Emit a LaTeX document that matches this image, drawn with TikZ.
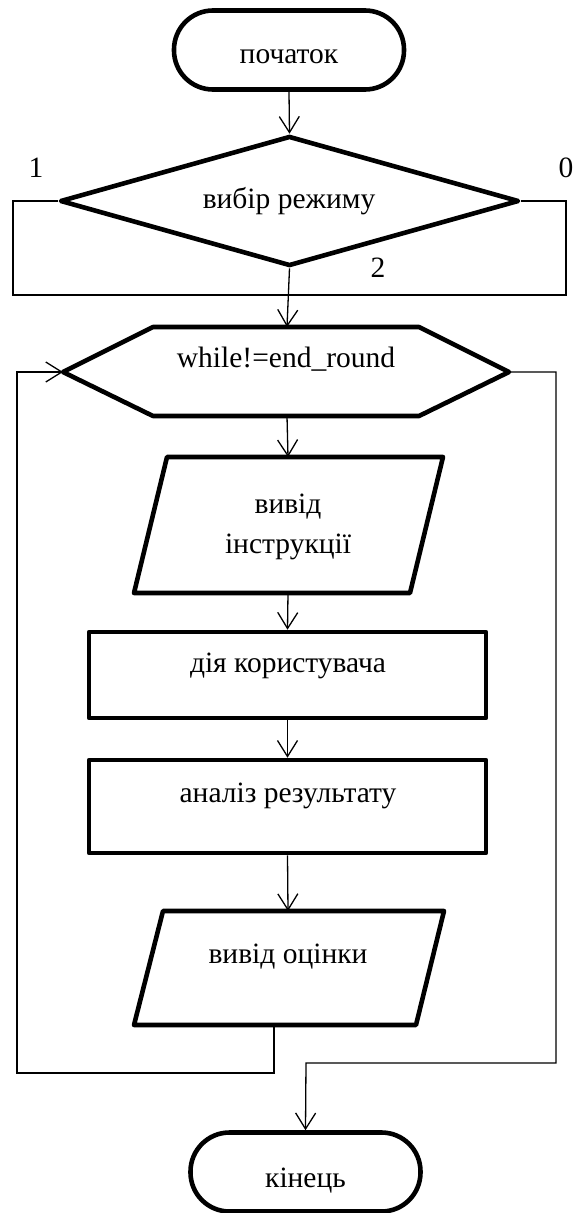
\documentclass[tikz,border=0pt]{standalone}
\usepackage{fontspec}
\setmainfont{Liberation Serif}
\usetikzlibrary{arrows.meta,shapes.geometric}
\begin{document}
\begin{tikzpicture}[x=1pt,y=-1pt,
  thickline/.style={line width=4.6pt, line join=round},
  thinline/.style={line width=1.3pt},
  flow/.style={thinline, -{Straight Barb[length=16pt,width=20pt]}},
  txt/.style={font=\fontsize{29.5}{38}\selectfont, inner sep=0pt, anchor=base},
  term/.style={thickline, draw, rectangle, rounded corners=39pt, minimum width=230pt, minimum height=79pt, inner sep=0pt},
  proc/.style={thickline, draw, rectangle, minimum width=397pt, inner sep=0pt},
]
\useasboundingbox (0,0) rectangle (574,1213);

% terminals
\node[term] (start) at (289,50) {};
\node[txt] (startt) at (289,63) {початок};
\node[term] (end) at (305.5,1172) {};
\node[txt] (endt) at (305.5,1187) {кінець};

% decision
\node[draw, thickline, diamond, minimum width=459pt, minimum height=130pt, inner sep=0pt] (dec) at (289.5,201) {};
\node[txt] (dect) at (289,208) {вибір режиму};
\node[txt] (l1) at (36,177) {1};
\node[txt] (l0) at (566,177) {0};
\node[txt] (l2) at (378,277) {2};

% loop hexagon
\draw[thickline] (63,372) coordinate (hexW) -- (153,327) -- (287,327) coordinate (hexN) -- (419,327)
  -- (509,372) coordinate (hexE) -- (419,416) -- (287,416) coordinate (hexS) -- (153,416) -- cycle;
\node[txt] (hext) at (286,367) {while!=end\_round};

% output 1
\draw[thickline] (167,457) -- (288,457) coordinate (p1N) -- (443,457) -- (410,593)
  -- (288,593) coordinate (p1S) -- (134,593) -- cycle;
\node[txt] (p1ta) at (288,513) {вивід};
\node[txt] (p1tb) at (288,553) {інструкції};

% processes
\node[proc, minimum height=86pt] (r1) at (287.5,675) {};
\node[txt] (r1t) at (288,672) {дія користувача};
\node[proc, minimum height=93pt] (r2) at (287.5,806.5) {};
\node[txt] (r2t) at (288,802) {аналіз результату};

% output 2
\draw[thickline] (163,911) -- (288,911) coordinate (p2N) -- (444,911) -- (416,1025)
  -- (274,1025) coordinate (p2S) -- (134,1025) -- cycle;
\node[txt] (p2t) at (288,963) {вивід оцінки};

% connectors
\draw[flow] (start.south) -- (dec.north);
\draw[thinline] (dec.west) -- (13,201) -- (13,295) -- (566,295) -- (566,201) -- (dec.east);
\draw[flow] (dec.south) -- (hexN);
\draw[flow] (hexS) -- (p1N);
\draw[flow] (p1S) -- (r1.north);
\draw[flow] (r1.south) -- (r2.north);
\draw[flow] (r2.south) -- (p2N);
\draw[flow] (p2S) -- (274,1073) -- (17,1073) -- (17,372) -- (hexW);
\draw[flow] (hexE) -- (556,372) -- (556,1063) -- (306,1063) -- (end.north);
\end{tikzpicture}
\end{document}
